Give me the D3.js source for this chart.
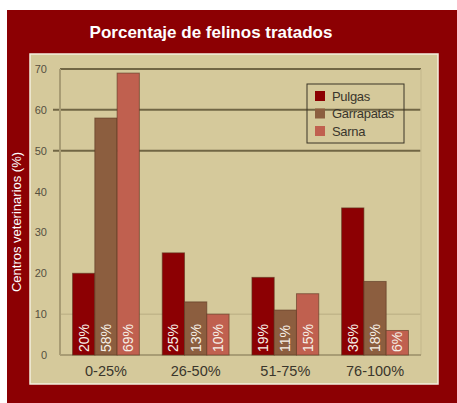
<!DOCTYPE html>
<html>
<head>
<meta charset="utf-8">
<script src="https://cdn.jsdelivr.net/npm/d3@7"></script>
<style>
  body { margin: 0; background: #fff; }
  svg { display: block; font-family: "Liberation Sans", Arial, sans-serif; }
</style>
</head>
<body>
<svg id="chart" width="457" height="403"></svg>
<script>
const categories = ['0-25%', '26-50%', '51-75%', '76-100%'];
const seriesNames = ['Pulgas', 'Garrapatas', 'Sarna'];
const pulgas = [20, 25, 19, 36];
const garrapatas = [58, 13, 11, 18];
const sarna = [69, 10, 15, 6];
const yTicks = [0, 10, 20, 30, 40, 50, 60, 70];
const colors = ['#8c0003', '#8c5e3f', '#c0604f'];

const series = [pulgas, garrapatas, sarna];
const rows = categories.map((c, i) => ({
  cat: c,
  vals: series.map((s, k) => ({ key: seriesNames[k], value: s[i] }))
}));

const svg = d3.select('#chart');

// outer frame
svg.append('rect').attr('x', 7).attr('y', 10).attr('width', 450).attr('height', 393)
  .attr('fill', '#8c0003');
svg.append('text').attr('x', 211).attr('y', 38).attr('text-anchor', 'middle')
  .attr('fill', '#fff').attr('font-size', 17).attr('font-weight', 'bold')
  .text('Porcentaje de felinos tratados');

// panel
svg.append('rect').attr('x', 30).attr('y', 54).attr('width', 408).attr('height', 330)
  .attr('fill', '#d5c99b').attr('stroke', '#f4efe0').attr('stroke-width', 1.5);

svg.append('text')
  .attr('transform', 'translate(21,222) rotate(-90)')
  .attr('text-anchor', 'middle').attr('fill', '#fff').attr('font-size', 13)
  .text('Centros veterinarios (%)');

const x0 = 60, x1 = 421, yTop = 69, yBot = 355;
const x = d3.scaleBand().domain(categories).range([x0, x1]).paddingInner(0.255).paddingOuter(0.14);
const xs = d3.scaleBand().domain(seriesNames).range([0, x.bandwidth()]);
const y = d3.scaleLinear().domain([0, 70]).range([yBot, yTop]);

// gridlines: only the top ones are drawn dark, 10 is faint
const g = svg.append('g');
g.selectAll('line.grid').data(yTicks.filter(d => d > 0)).join('line')
  .attr('x1', d => d === 50 || d === 60 ? 53 : x0).attr('x2', x1)
  .attr('y1', d => y(d)).attr('y2', d => y(d))
  .attr('stroke', d => d >= 50 ? '#716645' : '#c2b68a')
  .attr('stroke-width', d => d >= 50 ? 2 : 1.5)
  .attr('opacity', d => d >= 50 || d === 10 ? 1 : 0);
g.append('line').attr('x1', x0).attr('x2', x0).attr('y1', yTop).attr('y2', yBot)
  .attr('stroke', '#a89c74').attr('stroke-width', 2);
g.append('line').attr('x1', x1).attr('x2', x1).attr('y1', yTop).attr('y2', yBot)
  .attr('stroke', '#c8bc90').attr('stroke-width', 1.5);
g.append('line').attr('x1', x0).attr('x2', x1).attr('y1', yBot).attr('y2', yBot)
  .attr('stroke', '#a89c74').attr('stroke-width', 2);

// y tick labels
svg.append('g').selectAll('text').data(yTicks).join('text')
  .attr('x', 47).attr('y', d => y(d) + 4).attr('text-anchor', 'end')
  .attr('fill', '#55503f').attr('font-size', 11)
  .text(d => d);

// bars
const grp = svg.append('g').selectAll('g').data(rows).join('g')
  .attr('transform', d => `translate(${x(d.cat)},0)`);
grp.selectAll('rect').data(d => d.vals).join('rect')
  .attr('x', d => xs(d.key)).attr('y', d => y(d.value))
  .attr('width', xs.bandwidth()).attr('height', d => yBot - y(d.value))
  .attr('fill', (d, i) => colors[i])
  .attr('stroke', '#5a3520').attr('stroke-opacity', 0.6).attr('stroke-width', 1);
grp.selectAll('text').data(d => d.vals).join('text')
  .attr('transform', d => `translate(${xs(d.key) + xs.bandwidth() / 2 + 5},${yBot - 3}) rotate(-90)`)
  .attr('fill', '#f6efe6').attr('font-size', 14)
  .text(d => d.value + '%');

// x labels
svg.append('g').selectAll('text').data(categories).join('text')
  .attr('x', d => x(d) + x.bandwidth() / 2).attr('y', 376)
  .attr('text-anchor', 'middle').attr('fill', '#3a362c').attr('font-size', 14.5)
  .text(d => d);

// legend
const lg = svg.append('g').attr('transform', 'translate(307,84)');
lg.append('rect').attr('width', 97).attr('height', 59)
  .attr('fill', 'none').attr('stroke', '#3a3426').attr('stroke-width', 1);
const li = lg.selectAll('g').data(seriesNames).join('g')
  .attr('transform', (d, i) => `translate(8,${12 + i * 17.5})`);
li.append('rect').attr('x', 0).attr('y', -5).attr('width', 10).attr('height', 10)
  .attr('fill', (d, i) => colors[i]);
li.append('text').attr('x', 17).attr('y', 4.5).attr('fill', '#3a362c').attr('font-size', 13)
  .attr('letter-spacing', -0.3)
  .text(d => d);
</script>
</body>
</html>
